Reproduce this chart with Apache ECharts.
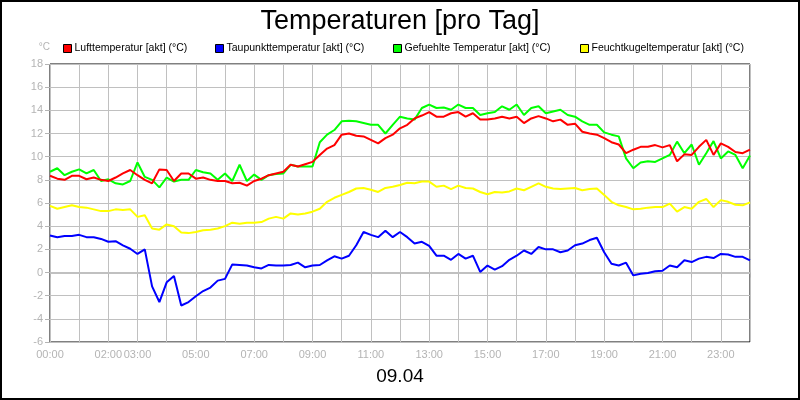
<!DOCTYPE html>
<html>
<head>
<meta charset="utf-8">
<script src="https://cdn.jsdelivr.net/npm/echarts@6/dist/echarts.min.js"></script>
<style>
  html, body { margin: 0; padding: 0; background: #fff; }
  #chart { width: 800px; height: 400px; }
</style>
</head>
<body>
<div id="chart"></div>
<script>
  // Messwerte 09.04, alle 15 Minuten (00:00 .. 24:00)
  const luftTemp = [
    8.35, 8.1, 8.0, 8.35, 8.35, 8.05, 8.2, 8.0, 7.9, 8.2, 8.55, 8.85,
    8.4, 8.0, 7.7, 8.9, 8.85, 7.9, 8.55, 8.55, 8.1, 8.2, 8.0, 7.9,
    7.9, 7.7, 7.75, 7.5, 7.9, 8.1, 8.4, 8.55, 8.7, 9.3, 9.15, 9.35,
    9.55, 10.15, 10.7, 11.0, 11.9, 12.0, 11.8, 11.75, 11.45, 11.15, 11.6, 11.9,
    12.45, 12.75, 13.3, 13.55, 13.85, 13.45, 13.45, 13.75, 13.85, 13.45, 13.75, 13.2,
    13.2, 13.3, 13.45, 13.3, 13.45, 12.9, 13.3, 13.5, 13.3, 13.05, 13.2, 12.75,
    12.85, 12.15, 12.0, 11.9, 11.6, 11.25, 11.05, 10.3, 10.6, 10.85, 10.85, 11.0,
    10.8, 11.0, 9.6, 10.2, 10.15, 10.85, 11.45, 10.15, 11.15, 10.85, 10.4, 10.3,
    10.6
  ]
  const taupunkt = [
    3.2, 3.05, 3.15, 3.15, 3.25, 3.05, 3.05, 2.9, 2.65, 2.7, 2.35, 2.05,
    1.6, 2.0, -1.2, -2.55, -0.85, -0.3, -2.85, -2.55, -2.05, -1.6, -1.3, -0.7,
    -0.55, 0.7, 0.65, 0.6, 0.45, 0.35, 0.65, 0.6, 0.6, 0.65, 0.85, 0.45,
    0.6, 0.65, 1.05, 1.4, 1.2, 1.45, 2.35, 3.5, 3.25, 3.05, 3.6, 3.05,
    3.5, 3.05, 2.5, 2.65, 2.3, 1.45, 1.45, 1.1, 1.6, 1.2, 1.45, 0.05,
    0.6, 0.25, 0.55, 1.1, 1.45, 1.9, 1.6, 2.2, 2.0, 2.0, 1.75, 1.9,
    2.35, 2.5, 2.8, 3.0, 1.75, 0.75, 0.6, 0.85, -0.25, -0.1, -0.05, 0.1,
    0.15, 0.6, 0.45, 1.05, 0.9, 1.2, 1.35, 1.25, 1.6, 1.55, 1.35, 1.35,
    1.05
  ]
  const gefuehlt = [
    8.7, 9.0, 8.4, 8.7, 8.9, 8.55, 8.85, 7.9, 8.05, 7.7, 7.6, 7.9,
    9.5, 8.25, 8.0, 7.35, 8.2, 7.85, 8.0, 8.0, 8.85, 8.65, 8.55, 8.0,
    8.55, 7.9, 9.3, 7.9, 8.45, 8.0, 8.4, 8.5, 8.55, 9.3, 9.15, 9.15,
    9.15, 11.25, 11.9, 12.3, 13.05, 13.1, 13.05, 12.9, 12.75, 12.75, 12.0, 12.75,
    13.45, 13.3, 13.2, 14.2, 14.5, 14.2, 14.25, 14.05, 14.5, 14.2, 14.2, 13.6,
    13.75, 13.85, 14.35, 14.05, 14.5, 13.6, 14.2, 14.35, 13.75, 13.9, 14.05, 13.6,
    13.45, 13.05, 12.75, 12.75, 12.1, 11.9, 11.75, 9.85, 9.0, 9.5, 9.6, 9.55,
    9.85, 10.15, 11.3, 10.3, 11.05, 9.3, 10.3, 11.35, 9.85, 10.45, 10.15, 9.0,
    10.1
  ]
  const feuchtkugel = [
    5.75, 5.5, 5.65, 5.8, 5.65, 5.6, 5.45, 5.3, 5.3, 5.45, 5.4, 5.45,
    4.8, 4.95, 3.8, 3.7, 4.15, 4.0, 3.45, 3.4, 3.5, 3.65, 3.7, 3.8,
    4.0, 4.3, 4.2, 4.3, 4.3, 4.35, 4.65, 4.8, 4.65, 5.1, 5.0, 5.1,
    5.25, 5.5, 6.1, 6.45, 6.7, 6.95, 7.25, 7.3, 7.15, 6.95, 7.3, 7.4,
    7.55, 7.75, 7.7, 7.85, 7.85, 7.4, 7.5, 7.2, 7.5, 7.3, 7.25, 6.95,
    6.75, 6.95, 6.9, 7.0, 7.25, 7.1, 7.4, 7.7, 7.4, 7.25, 7.2, 7.25,
    7.3, 7.1, 7.2, 7.25, 6.7, 6.1, 5.8, 5.65, 5.45, 5.5, 5.6, 5.65,
    5.65, 5.95, 5.25, 5.65, 5.5, 6.1, 6.35, 5.65, 6.25, 6.1, 5.85, 5.8,
    6.05
  ]

  const seriesNames = ['Lufttemperatur [akt] (°C)', 'Taupunkttemperatur [akt] (°C)',
    'Gefuehlte Temperatur [akt] (°C)', 'Feuchtkugeltemperatur [akt] (°C)']
  const seriesColors = ['#ff0000', '#0000ff', '#00ff00', '#ffff00']
  const legendLeft = [58, 210, 388, 575]
  const labelHours = [0, 2, 3, 5, 7, 9, 11, 13, 15, 17, 19, 21, 23]

  // Zeitachse in Stunden
  const hours = luftTemp.map((v, i) => i / 4)
  const pair = arr => arr.map((v, i) => [hours[i], v])

  const grey = '#b4b4b4'
  const chart = echarts.init(document.getElementById('chart'))

  const legends = seriesNames.map((name, i) => ({
    data: [name],
    left: legendLeft[i],
    top: 38,
    icon: 'rect',
    itemWidth: 8,
    itemHeight: 8,
    itemGap: 0,
    selectedMode: false,
    itemStyle: {borderColor: '#000', borderWidth: 1},
    textStyle: {fontSize: 10.5, color: '#000', fontFamily: 'Liberation Sans', padding: [0, 0, 0, -2]}
  }))

  const dataSets = [luftTemp, taupunkt, gefuehlt, feuchtkugel]
  const zOrder = [5, 4, 3, 2]

  chart.setOption({
    animation: false,
    color: seriesColors,
    textStyle: {fontFamily: 'Liberation Sans'},
    title: {
      text: 'Temperaturen [pro Tag]',
      left: 'center',
      top: 3,
      textStyle: {fontSize: 27, fontWeight: 'normal', color: '#000', fontFamily: 'Liberation Sans'}
    },
    legend: legends,
    grid: {
      left: 50,
      right: 50,
      top: 64,
      bottom: 58,
      show: true,
      borderColor: '#000',
      borderWidth: 1
    },
    xAxis: {
      type: 'value',
      min: 0,
      max: 24,
      interval: 1,
      name: '09.04',
      nameLocation: 'middle',
      nameGap: 25,
      nameTextStyle: {fontSize: 19, color: '#000'},
      axisLine: {show: false},
      axisTick: {show: true, length: 5, lineStyle: {color: grey}},
      axisLabel: {
        color: grey,
        fontSize: 11,
        margin: 7,
        formatter: v => labelHours.includes(v) ? String(v).padStart(2, '0') + ':00' : ''
      },
      splitLine: {show: true, lineStyle: {color: '#c0c0c0', width: 1}}
    },
    yAxis: {
      type: 'value',
      min: -6,
      max: 18,
      interval: 2,
      name: '°C',
      nameLocation: 'end',
      nameGap: 12,
      nameTextStyle: {fontSize: 10, color: grey, align: 'right', padding: [0, 0, 0, 0]},
      axisLine: {show: false},
      axisTick: {show: true, length: 5, lineStyle: {color: grey}},
      axisLabel: {color: grey, fontSize: 11, margin: 7},
      splitLine: {show: true, lineStyle: {color: '#c0c0c0', width: 1}}
    },
    series: seriesNames.map((name, i) => ({
      name: name,
      type: 'line',
      data: pair(dataSets[i]),
      showSymbol: false,
      z: zOrder[i],
      lineStyle: {width: 2, color: seriesColors[i]},
      markLine: i === 0 ? {
        silent: true,
        symbol: 'none',
        label: {show: false},
        lineStyle: {color: '#c0c0c0', width: 2, type: 'solid'},
        data: [{yAxis: 0}],
        z: 1
      } : undefined
    })),
    graphic: [{
      type: 'rect',
      shape: {x: 1, y: 1, width: 798, height: 398},
      style: {fill: 'none', stroke: '#000', lineWidth: 2},
      silent: true
    }]
  })
</script>
</body>
</html>
